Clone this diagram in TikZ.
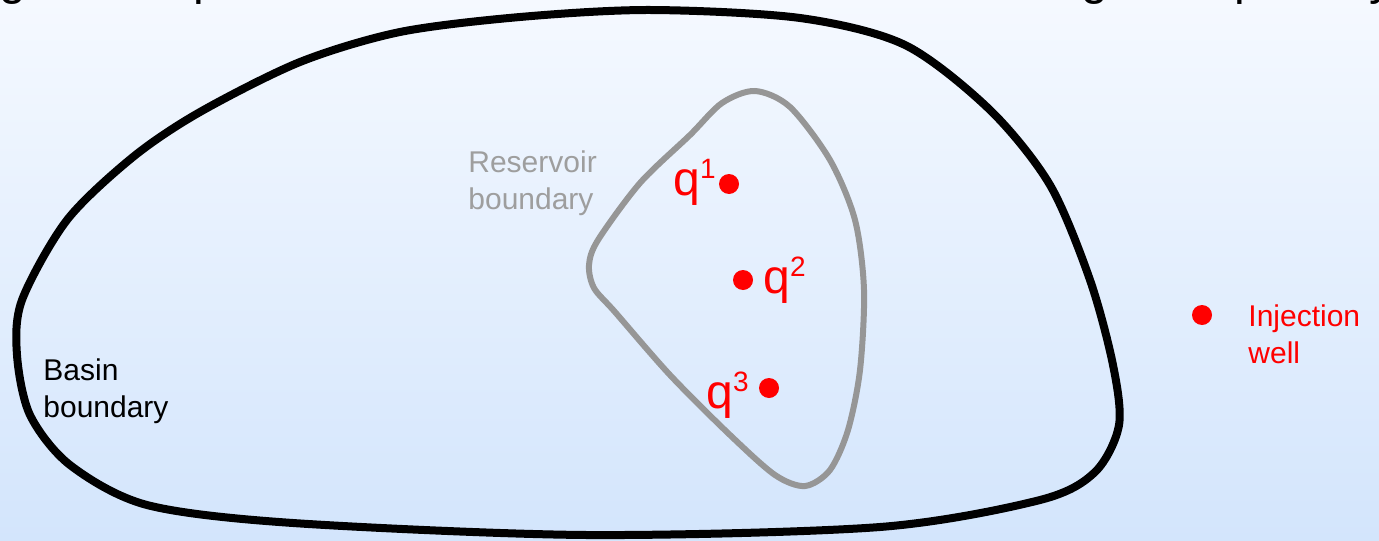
\documentclass[tikz,border=0pt]{standalone}
\usepackage{fontspec}
\setmainfont{Liberation Sans}
\usetikzlibrary{positioning}
\definecolor{wellred}{RGB}{255,0,0}
\definecolor{resgray}{RGB}{150,150,150}
\definecolor{restxt}{RGB}{158,158,158}
\definecolor{bgtop}{RGB}{245,249,255}
\definecolor{bgbot}{RGB}{211,229,252}
\tikzset{
  well/.style  = {circle, fill=wellred, inner sep=0pt, minimum size=10pt},
  lbl/.style   = {inner sep=0pt, align=left, anchor=base west,
                  font=\fontsize{15}{18.5}\selectfont},
  qlbl/.style  = {inner sep=0pt, anchor=base west, text=wellred,
                  font=\fontsize{24}{24}\selectfont},
  ttl/.style   = {inner sep=0pt, anchor=base west,
                  font=\fontsize{24}{24}\selectfont},
  basin/.style = {line width=4pt, black},
  resv/.style  = {line width=3pt, resgray}
}
\newcommand{\qsup}[1]{q\raisebox{8.5pt}{\fontsize{14}{14}\selectfont #1}}

\begin{document}
\begin{tikzpicture}[x=0.5pt, y=-0.5pt]

\useasboundingbox (0,0) rectangle (1379,540);
\shade[top color=bgtop, bottom color=bgbot] (0,0) rectangle (1379,540);

% --- title line, cut off at the top ---
\begin{scope}
\clip (0,0) rectangle (1379,540);
\node[ttl] (t1) at (-1,-5)   {g};
\node[ttl] (t2) at (193,-5)  {p};
\node[ttl] (t3) at (1081,-5) {g};
\node[ttl] (t4) at (1234,-5) {p};
\node[ttl] (t5) at (1369,-5) {y};
\end{scope}

% --- basin boundary ---
\draw[basin] plot[smooth cycle] coordinates {
  (650,10) (800,18) (905,45) (990,110) (1050,185) (1090,280)
  (1113,365) (1119,425) (1095,472) (1040,500) (880,527) (587,535)
  (293,523) (147,505) (70,465) (30,415) (17,355) (22,300)
  (67,220) (133,157) (200,112) (300,62) (400,32) (520,17)};

% --- reservoir boundary ---
\draw[resv] plot[smooth cycle] coordinates {
  (690,135) (722,103) (755,91) (790,107) (830,160) (855,220)
  (864,290) (860,370) (848,430) (830,470) (805,486) (775,475)
  (730,435) (670,375) (615,312) (594,288) (589,265) (598,240)
  (640,183)};

% --- labels ---
\node[lbl] (basinlbl) at (43,417) {Basin\\boundary};
\node[lbl, text=restxt] (reslbl) at (468,209) {Reservoir\\boundary};

% --- wells ---
\node[well] (q1) at (729,184) {};
\node[well] (q2) at (743,280) {};
\node[well] (q3) at (769,388) {};
\node[well] (inj) at (1202,315) {};

\node[qlbl] (q1lbl) at (673,195) {\qsup{1}};
\node[qlbl] (q2lbl) at (763,293) {\qsup{2}};
\node[qlbl] (q3lbl) at (706,408) {\qsup{3}};
\node[lbl, text=wellred] (injlbl) at (1248,363) {Injection\\well};

\end{tikzpicture}
\end{document}
